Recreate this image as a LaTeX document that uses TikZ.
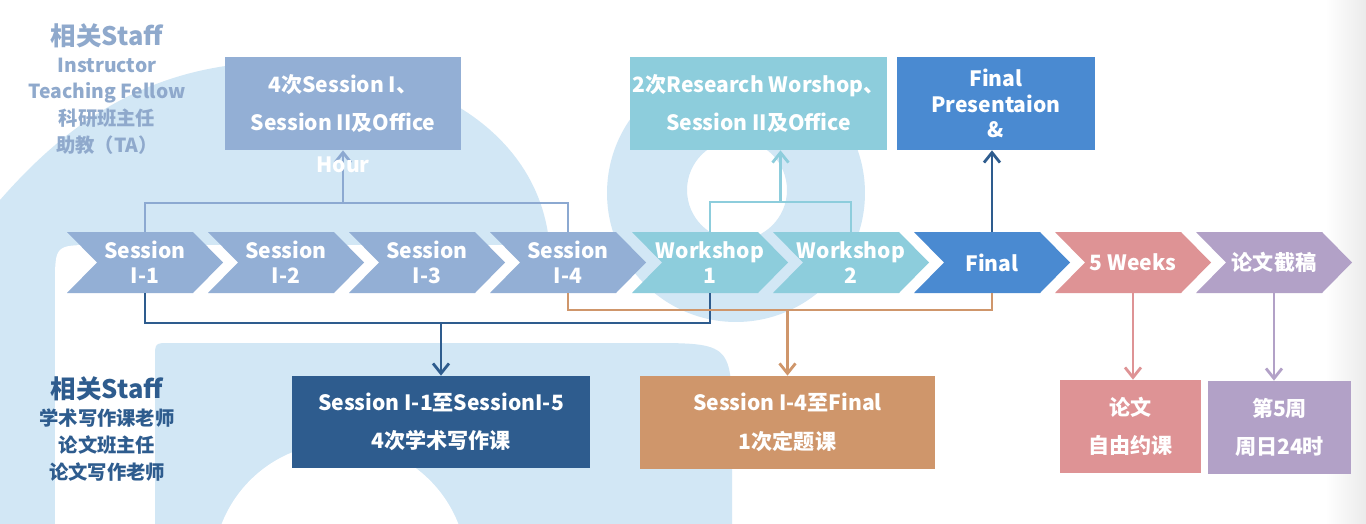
\documentclass[tikz,border=0pt]{standalone}
\usepackage{fontspec}
\setmainfont{Noto Sans CJK SC}
\usetikzlibrary{arrows.meta,calc}
\definecolor{bgblue}{HTML}{D2E7F5}
\definecolor{sessblue}{HTML}{93AFD5}
\definecolor{sessline}{HTML}{8CA9D1}
\definecolor{wscyan}{HTML}{8DCDDC}
\definecolor{finblue}{HTML}{4A8AD1}
\definecolor{wkpink}{HTML}{DE9395}
\definecolor{ddlpurple}{HTML}{B2A1C7}
\definecolor{navy}{HTML}{2E5C8E}
\definecolor{tan}{HTML}{CF966B}
\definecolor{stafftop}{HTML}{8FA9CC}
\begin{document}
\begin{tikzpicture}[x=0.02cm,y=-0.02cm,
  chevtxt/.style={minimum width=3.12cm,minimum height=1.22cm,inner sep=0pt,text=white,align=center,font=\bfseries\fontsize{12}{14}\selectfont},
  box/.style={rectangle,inner sep=0pt,text=white,align=center,minimum height=1.86cm,font=\bfseries\fontsize{12}{22}\selectfont},
  staff/.style={align=center,inner sep=0pt,font=\bfseries\fontsize{11}{15.3}\selectfont},
  link/.style={line width=1.6pt},
  tip/.style={-{Straight Barb[length=2mm,width=3.2mm]}}]
\useasboundingbox (0,0) rectangle (1366,524);
\clip (0,0) rectangle (1366,524);
\fill[white] (0,0) rectangle (1366,524);
\shade[left color=white,right color=black!8] (1325,0) rectangle (1366,524);
\fill[bgblue] (0,600) -- (0,200) .. controls (70,120) and (150,66) .. (270,62) .. controls (450,62) and (550,150) .. (550,260) -- (550,600) -- cycle;
\fill[white] (55,600) -- (55,285) .. controls (55,245) .. (95,245) -- (600,245) -- (600,600) -- cycle;
\fill[bgblue] (155,600) -- (155,358) .. controls (155,343) .. (170,343) -- (647,343) .. controls (732,343) .. (732,428) -- (732,600) -- cycle;
\fill[white] (340,570) circle (2.54cm);
\fill[bgblue,even odd rule] (736,193) circle (2.58cm) (737,190) circle (1cm);

\foreach \nm/\xa/\col/\txt in {ses1/67/sessblue/{Session\\I-1},ses2/208/sessblue/{Session\\I-2},ses3/349/sessblue/{Session\\I-3},ses4/490/sessblue/{Session\\I-4},ws1/632/wscyan/{Workshop\\1},ws2/773/wscyan/{Workshop\\2},fin/914/finblue/Final,wks/1055/wkpink/5 Weeks,ddl/1196/ddlpurple/论文截稿}{
  \fill[\col] (\xa,232) -- ++(126,0) -- ++(30,30.5) -- ++(-30,30.5) -- ++(-126,0) -- ++(30,-30.5) -- cycle;
  \node[chevtxt] (\nm) at (\xa+78,262.5) {\txt};
}

\node[box,fill=sessblue,minimum width=4.72cm] (offA) at (343,103.5) {4次Session I、\\Session II及Office};
\node[box,fill=wscyan,minimum width=5.14cm] (offB) at (758.5,103.5) {2次Research Worshop、\\Session II及Office};
\node[box,fill=finblue,minimum width=3.96cm,font=\bfseries\fontsize{12}{14.7}\selectfont] (pres) at (996,103.5) {Final\\Presentaion\\\&};
\node[box,fill=navy,minimum width=5.96cm,minimum height=1.84cm] (writ) at (441,422) {Session I-1至SessionI-5\\4次学术写作课};
\node[box,fill=tan,minimum width=5.9cm] (topic) at (787.5,422.5) {Session I-4至Final\\1次定题课};
\node[box,fill=wkpink,minimum width=2.82cm] (free) at (1130.5,426.5) {论文\\自由约课};
\node[box,fill=ddlpurple,minimum width=2.86cm] (due) at (1279.5,427.5) {第5周\\周日24时};

\node[staff,text=stafftop] (stafft) at (107,89) {{\fontsize{14.5}{16}\selectfont 相关Staff}\\Instructor\\Teaching Fellow\\科研班主任\\助教（TA）};
\node[staff,text=navy] (staffb) at (107,429) {{\fontsize{14.5}{16}\selectfont 相关Staff}\\学术写作课老师\\论文班主任\\论文写作老师};

\coordinate (lvA) at (0,203);
\coordinate (lvB) at (0,202);
\coordinate (lvD) at (0,323);
\coordinate (lvE) at (0,310);
\coordinate (wsmid) at ($(ws1.north)!.5!(ws2.north)$);
\draw[link,sessline] (ses1.north) |- (ses4.north |- lvA) -- (ses4.north);
\draw[link,tip,sessline] (offA.south |- lvA) -- (offA.south);
\draw[link,wscyan] (ws1.north) |- (ws2.north |- lvB) -- (ws2.north);
\draw[link,tip,wscyan] (wsmid |- lvB) -- (wsmid |- offB.south);
\draw[link,tip,navy] (fin.north) -- (fin.north |- pres.south);
\draw[link,navy] (ses1.south) |- (ws1.south |- lvD) -- (ws1.south);
\draw[link,tip,navy] (writ.north |- lvD) -- (writ.north);
\draw[link,tan] (ses4.south) |- (fin.south |- lvE) -- (fin.south);
\draw[link,tip,tan] (topic.north |- lvE) -- (topic.north);
\draw[link,tip,wkpink] (wks.south) -- (wks.south |- free.north);
\draw[link,tip,ddlpurple] (ddl.south) -- (ddl.south |- due.north);
\node[text=white,font=\bfseries\fontsize{12}{14}\selectfont] (hour) at (343,165) {Hour};
\end{tikzpicture}
\end{document}
